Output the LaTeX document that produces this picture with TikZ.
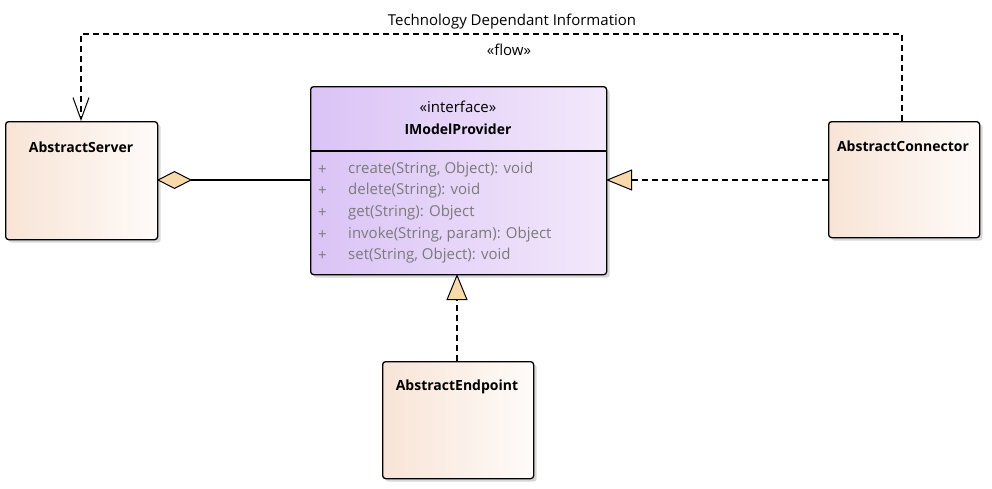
\documentclass[tikz,border=0pt]{standalone}
\usepackage{fontspec}
\setmainfont{Open Sans}
\usetikzlibrary{arrows.meta,shadows}
\definecolor{clsL}{HTML}{F8E4D6}
\definecolor{clsR}{HTML}{FEFBF9}
\definecolor{ifL}{HTML}{DAC3F6}
\definecolor{ifR}{HTML}{F3E8FB}
\definecolor{tan}{HTML}{F8DAAA}
\definecolor{meth}{HTML}{7A7A7A}
\tikzset{
  box/.style={draw=black, line width=1.3pt, rounded corners=3pt, anchor=north west,
    inner sep=0pt, drop shadow={shadow xshift=3pt, shadow yshift=-3pt, fill=black!30, opacity=.5}},
  cls/.style={box, left color=clsL, right color=clsR},
  iface/.style={box, left color=ifL, right color=ifR},
  ttl/.style={font=\fontsize{14}{16}\selectfont\bfseries, inner sep=0pt},
  txt/.style={font=\fontsize{15}{17}\selectfont, inner sep=0pt},
  mtd/.style={font=\fontsize{15}{17}\selectfont, text=meth, inner sep=0pt, anchor=west},
  conn/.style={line width=1.2pt},
  dsh/.style={conn, dash pattern=on 6pt off 4pt},
}
\begin{document}
\begin{tikzpicture}[x=1pt,y=-1pt]
\useasboundingbox (0,0) rectangle (992,488);
% boxes
\node[cls, minimum width=152pt, minimum height=118pt] (server) at (5,121) {};
\node[iface, minimum width=296pt, minimum height=188pt] (prov) at (310,86) {};
\node[cls, minimum width=151pt, minimum height=116pt] (conn) at (828,121) {};
\node[cls, minimum width=151pt, minimum height=117pt] (endp) at (382,361) {};
\draw[line width=1.3pt] (310,151) -- (606,151);
% titles
\node[ttl] (tserver) at (81,147) {AbstractServer};
\node[ttl] (tconn) at (903,146) {AbstractConnector};
\node[ttl] (tendp) at (457,387) {AbstractEndpoint};
\node[txt] (stereo) at (458,107) {«interface»};
\node[ttl] (tprov) at (458,129) {IModelProvider};
% methods
\foreach \y/\t [count=\i] in {170/{create(String, Object): void},191/{delete(String): void},213/{get(String): Object},235/{invoke(String, param): Object},256/{set(String, Object): void}}{
  \node[mtd] (p\i) at (318,\y) {+};
  \node[mtd] (m\i) at (348,\y) {\t};
}
% connectors
\coordinate (srvR) at (157,180);
\coordinate (provL) at (310,180);
\coordinate (provR) at (606,180);
\coordinate (connL) at (828,180);
\coordinate (provB) at (457,274);
\coordinate (endpT) at (457,361);
\coordinate (connT) at (902,121);
\coordinate (c1) at (902,34);
\coordinate (c2) at (81,34);
\coordinate (srvT) at (81,121);
\draw[conn, {Diamond[fill=tan,length=35pt,width=18pt,line width=1pt]}-] (srvR) -- (provL);
\draw[dsh, -{Triangle[fill=tan,length=26pt,width=21pt,line width=1pt]}] (connL) -- (provR);
\draw[dsh, -{Triangle[fill=tan,length=26pt,width=21pt,line width=1pt]}] (endpT) -- (provB);
\draw[dsh, -{Straight Barb[length=22pt,width=16pt,line width=1pt]}] (connT) -- (c1) -- (c2) -- (srvT);
\node[txt] (lbl1) at (512,22) {Technology Dependant Information};
\node[txt] (lbl2) at (509,50) {«flow»};
\end{tikzpicture}
\end{document}
